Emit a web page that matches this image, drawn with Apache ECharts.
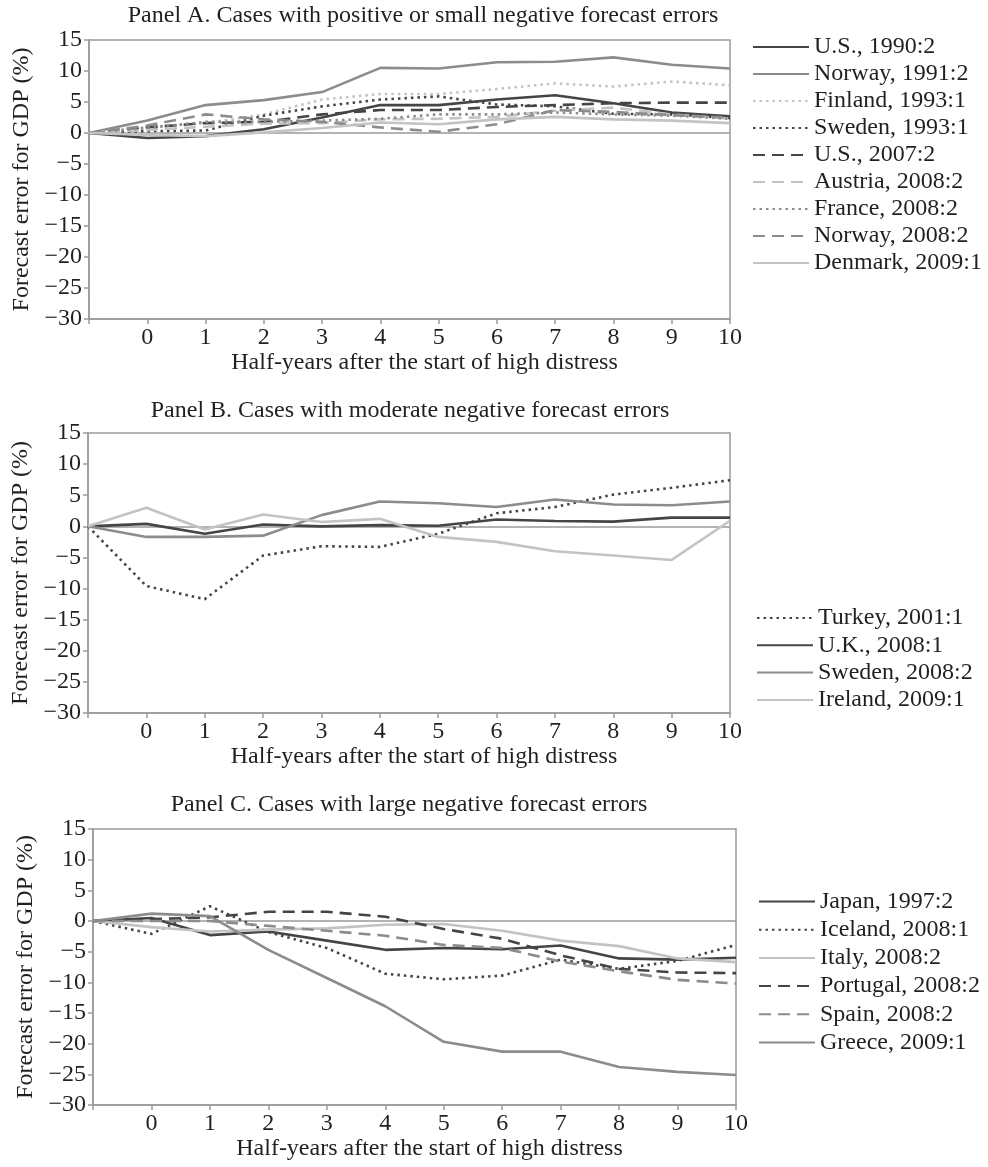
<!DOCTYPE html>
<html>
<head>
<meta charset="utf-8">
<script src="https://cdn.jsdelivr.net/npm/echarts@6/dist/echarts.min.js"></script>
<style>
  html, body { margin: 0; padding: 0; background: #fff; }
  #chart { width: 988px; height: 1167px; }
</style>
</head>
<body>
<div id="chart"></div>
<script>
// ---- data ----
const halfYears = [-1, 0, 1, 2, 3, 4, 5, 6, 7, 8, 9, 10];
const yTicks = { min: -30, max: 15, step: 5 };

const panelATitle = 'Panel A. Cases with positive or small negative forecast errors';
const panelBTitle = 'Panel B. Cases with moderate negative forecast errors';
const panelCTitle = 'Panel C. Cases with large negative forecast errors';
const xAxisName = 'Half-years after the start of high distress';
const yAxisName = 'Forecast error for GDP (%)';

// Panel A
const us1990     = [0, -0.8, -0.5, 0.6, 2.5, 4.5, 4.5, 5.4, 6.1, 4.8, 3.3, 2.7];
const norway1991 = [0, 2.0, 4.5, 5.3, 6.6, 10.5, 10.4, 11.4, 11.5, 12.2, 11.0, 10.4];
const finland1993= [0, 1.0, 1.6, 3.0, 5.4, 6.3, 6.3, 7.1, 8.0, 7.5, 8.3, 7.7];
const sweden1993 = [0, 0.3, 0.4, 2.8, 4.3, 5.4, 5.9, 4.6, 4.3, 3.1, 3.0, 2.4];
const us2007     = [0, 0.9, 1.6, 1.8, 3.0, 3.7, 3.7, 4.2, 4.5, 4.8, 4.9, 4.9];
const austria2008= [0, 0.5, 1.0, 1.5, 1.6, 2.2, 2.3, 2.6, 3.6, 4.1, 3.0, 2.3];
const france2008 = [0, 0.8, 1.8, 1.8, 2.0, 2.3, 3.0, 3.0, 3.3, 3.0, 2.8, 2.3];
const norway2008 = [0, 1.2, 3.0, 2.2, 1.8, 0.9, 0.2, 1.4, 3.7, 3.4, 2.9, 2.5];
const denmark2009= [0, -0.3, -0.5, 0.1, 0.8, 1.7, 1.4, 2.2, 2.6, 2.2, 2.0, 1.6];

// Panel B
const turkey2001 = [0, -9.6, -11.7, -4.7, -3.2, -3.3, -1.2, 2.1, 3.1, 5.1, 6.2, 7.4];
const uk2008     = [0, 0.4, -1.2, 0.3, 0.0, 0.2, 0.1, 1.1, 0.85, 0.75, 1.4, 1.4];
const sweden2008 = [0, -1.7, -1.7, -1.5, 1.8, 4.0, 3.7, 3.1, 4.3, 3.5, 3.4, 4.0];
const ireland2009= [0, 3.0, -0.5, 1.9, 0.7, 1.2, -1.7, -2.5, -4.0, -4.7, -5.4, 0.9];

// Panel C
const japan1997  = [0, 0.5, -2.3, -1.7, -3.2, -4.7, -4.4, -4.6, -4.0, -6.1, -6.3, -6.0];
const iceland2008= [0, -2.1, 2.4, -1.8, -4.4, -8.6, -9.5, -8.9, -6.3, -7.8, -6.5, -3.9];
const italy2008  = [0, -1.0, -1.7, -1.4, -1.2, -0.6, -0.5, -1.6, -3.2, -4.1, -6.1, -6.7];
const portugal2008=[0, 0.3, 0.6, 1.5, 1.5, 0.7, -1.3, -2.9, -5.6, -7.8, -8.4, -8.5];
const spain2008  = [0, 0.0, 0.0, -0.8, -1.6, -2.4, -3.9, -4.4, -6.6, -8.2, -9.6, -10.2];
const greece2009 = [0, 1.2, 0.8, -4.7, -9.3, -13.9, -19.7, -21.3, -21.3, -23.8, -24.6, -25.1];

// ---- styles ----
const DARK = '#454545', MID = '#8c8c8c', LIGHT = '#c3c3c3';
const SOLID = 'solid', DASH = [12, 7], DOT = [2.5, 4];
const FONT = 'Liberation Serif';
const TXT = '#231f20';
const AXIS = '#9a9a9a';
const FS = 24;

const panels = [
  { title: panelATitle, grid: { left: 89, top: 40, width: 641, height: 279 }, titleX: 423, titleY: 4,
    legend: { left: 752, top: 35, lh: 24, gap: 3 },
    series: [
      ['U.S., 1990:2', us1990, DARK, SOLID],
      ['Norway, 1991:2', norway1991, MID, SOLID],
      ['Finland, 1993:1', finland1993, LIGHT, DOT],
      ['Sweden, 1993:1', sweden1993, DARK, DOT],
      ['U.S., 2007:2', us2007, DARK, DASH],
      ['Austria, 2008:2', austria2008, LIGHT, DASH],
      ['France, 2008:2', france2008, MID, DOT],
      ['Norway, 2008:2', norway2008, MID, DASH],
      ['Denmark, 2009:1', denmark2009, LIGHT, SOLID]
    ] },
  { title: panelBTitle, grid: { left: 88, top: 433, width: 642, height: 280 }, titleX: 410, titleY: 399,
    legend: { left: 756, top: 606, lh: 24, gap: 3.3 },
    series: [
      ['Turkey, 2001:1', turkey2001, DARK, DOT],
      ['U.K., 2008:1', uk2008, DARK, SOLID],
      ['Sweden, 2008:2', sweden2008, MID, SOLID],
      ['Ireland, 2009:1', ireland2009, LIGHT, SOLID]
    ] },
  { title: panelCTitle, grid: { left: 93, top: 829, width: 643, height: 276 }, titleX: 409, titleY: 793,
    legend: { left: 758, top: 889, lh: 25, gap: 3.2 },
    series: [
      ['Japan, 1997:2', japan1997, DARK, SOLID],
      ['Iceland, 2008:1', iceland2008, DARK, DOT],
      ['Italy, 2008:2', italy2008, LIGHT, SOLID],
      ['Portugal, 2008:2', portugal2008, DARK, DASH],
      ['Spain, 2008:2', spain2008, MID, DASH],
      ['Greece, 2009:1', greece2009, MID, SOLID]
    ] }
];

const fmtY = v => (v < 0 ? '\u2212' + Math.abs(v) : String(v));

const option = {
  animation: false,
  backgroundColor: '#fff',
  textStyle: { fontFamily: FONT, color: TXT },
  title: [], grid: [], xAxis: [], yAxis: [], legend: [], series: []
};

panels.forEach((p, i) => {
  option.title.push({
    text: p.title, left: p.titleX, top: p.titleY, textAlign: 'center', padding: 0,
    textStyle: { fontFamily: FONT, fontSize: FS, fontWeight: 'normal', color: TXT }
  });
  option.grid.push(Object.assign({ show: true, borderColor: AXIS, borderWidth: 1.5, backgroundColor: 'transparent' }, p.grid));
  option.xAxis.push({
    type: 'value', gridIndex: i, min: -1, max: 10, interval: 1,
    name: xAxisName, nameLocation: 'middle', nameGap: 31,
    nameTextStyle: { fontFamily: FONT, fontSize: FS, color: TXT, padding: [0, 0, 0, 30] },
    axisLine: { show: true, onZero: false, lineStyle: { color: AXIS, width: 1.5 } },
    axisTick: { show: true, length: 5, lineStyle: { color: AXIS, width: 1.5 } },
    axisLabel: { margin: 7, fontFamily: FONT, fontSize: FS, color: TXT,
      formatter: v => (v < 0 ? '' : String(v)) },
    splitLine: { show: false }
  });
  option.yAxis.push({
    type: 'value', gridIndex: i, min: yTicks.min, max: yTicks.max, interval: yTicks.step,
    name: yAxisName, nameLocation: 'middle', nameGap: 52, nameRotate: 90,
    nameTextStyle: { fontFamily: FONT, fontSize: FS, color: TXT },
    axisLine: { show: true, onZero: false, lineStyle: { color: AXIS, width: 1.5 } },
    axisTick: { show: true, length: 5, lineStyle: { color: AXIS, width: 1.5 } },
    axisLabel: { margin: 7, fontFamily: FONT, fontSize: FS, color: TXT, formatter: fmtY },
    splitLine: { show: false }
  });
  option.legend.push({
    orient: 'vertical', left: p.legend.left, top: p.legend.top,
    itemWidth: 56, itemHeight: 14, itemGap: p.legend.gap, padding: 0,
    itemStyle: { opacity: 0 },
    textStyle: { fontFamily: FONT, fontSize: FS, color: TXT, lineHeight: p.legend.lh },
    data: p.series.map(s => s[0])
  });
  p.series.forEach((s, k) => {
    const ser = {
      name: s[0], type: 'line', xAxisIndex: i, yAxisIndex: i,
      symbol: 'none', smooth: false, z: 3 + k,
      lineStyle: { color: s[2], width: 2.6, type: s[3] },
      itemStyle: { color: s[2] },
      data: halfYears.map((x, j) => [x, s[1][j]])
    };
    if (k === 0) {
      ser.markLine = {
        silent: true, symbol: 'none', animation: false,
        label: { show: false },
        lineStyle: { color: AXIS, width: 1.5, type: 'solid' },
        data: [{ yAxis: 0 }],
        z: 1
      };
    }
    option.series.push(ser);
  });
});

const chart = echarts.init(document.getElementById('chart'), null, { renderer: 'canvas' });
chart.setOption(option);
</script>
</body>
</html>
